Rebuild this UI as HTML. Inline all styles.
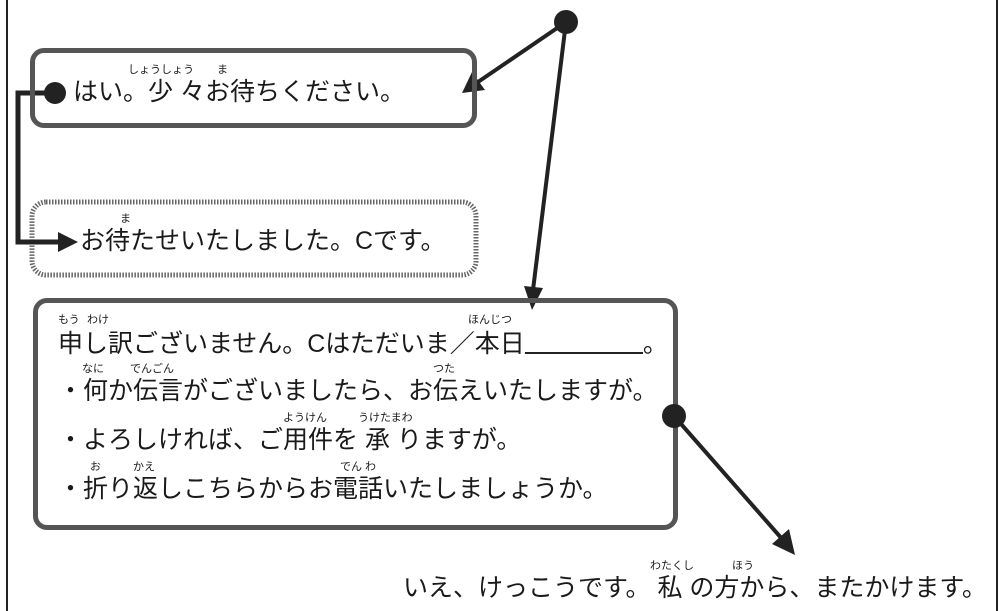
<!DOCTYPE html>
<html><head><meta charset="utf-8"><style>
body{margin:0;width:1004px;height:611px;background:#fff;position:relative;overflow:hidden;font-family:"Liberation Sans","Noto Sans CJK JP",sans-serif;color:#1a1a1a}
.t{position:absolute;font-size:25px;white-space:nowrap;line-height:1}
.r{position:absolute;font-size:11px;white-space:nowrap;line-height:1}
.box{position:absolute;border:5px solid #555;border-radius:14px;box-sizing:border-box}
</style></head><body>
<svg width="1004" height="611" style="position:absolute;left:0;top:0">
<line x1="7" y1="0" x2="7" y2="611" stroke="#222" stroke-width="2"/>
<line x1="997" y1="0" x2="997" y2="611" stroke="#222" stroke-width="2"/>
<rect x="32" y="202" width="444" height="73" rx="14" fill="none" stroke="#666" stroke-width="5" stroke-dasharray="1.5 1.5"/>
<polyline points="55,93 18,93 18,242 62,242" fill="none" stroke="#222" stroke-width="5"/>
<polygon points="58,232 78,242 58,252" fill="#222"/>
<line x1="566" y1="22" x2="478" y2="82" stroke="#222" stroke-width="4"/>
<polygon points="462,93 472,72 485,90" fill="#222"/>
<line x1="566" y1="22" x2="533" y2="290" stroke="#222" stroke-width="4"/>
<polygon points="532,310 524,286 543,288" fill="#222"/>
<line x1="674" y1="416" x2="783" y2="540" stroke="#222" stroke-width="4"/>
<polygon points="795,555 772,544 789,529" fill="#222"/>
</svg>
<div class="box" style="left:30px;top:48px;width:447px;height:80px"></div>
<div class="box" style="left:33px;top:298px;width:645px;height:232px"></div>
<svg width="1004" height="611" style="position:absolute;left:0;top:0">
<circle cx="55" cy="93" r="11" fill="#222"/>
<circle cx="566" cy="22" r="12" fill="#222"/>
<circle cx="674" cy="416" r="12" fill="#222"/>
</svg>
<div class="t" style="left:73px;top:80px">はい。少 々お待ちください。</div>
<div class="r" style="left:128px;top:65px">しょうしょう</div>
<div class="r" style="left:217px;top:65px">ま</div>
<div class="t" style="left:80px;top:229px">お待たせいたしました。Cです。</div>
<div class="r" style="left:120px;top:214px">ま</div>
<div class="t" style="left:58px;top:330px">申し訳ございません。Cはただいま／本日<span style="display:inline-block;width:118px;border-bottom:2px solid #222;height:22px;vertical-align:-2px"></span>。</div>
<div class="r" style="left:58px;top:315px">もう</div>
<div class="r" style="left:87px;top:315px">わけ</div>
<div class="r" style="left:468px;top:315px">ほんじつ</div>
<div class="t" style="left:58px;top:379px">・何か伝言がございましたら、お伝えいたしますが。</div>
<div class="r" style="left:82px;top:364px">なに</div>
<div class="r" style="left:130px;top:364px">でんごん</div>
<div class="r" style="left:433px;top:364px">つた</div>
<div class="t" style="left:58px;top:428px">・よろしければ、ご用件を 承 りますが。</div>
<div class="r" style="left:283px;top:413px">ようけん</div>
<div class="r" style="left:358px;top:413px">うけたまわ</div>
<div class="t" style="left:58px;top:477px">・折り返しこちらからお電話いたしましょうか。</div>
<div class="r" style="left:90px;top:462px">お</div>
<div class="r" style="left:133px;top:462px">かえ</div>
<div class="r" style="left:340px;top:462px">でん わ</div>
<div class="t" style="left:403px;top:576px">いえ、けっこうです。 私 の方から、またかけます。</div>
<div class="r" style="left:650px;top:561px">わたくし</div>
<div class="r" style="left:732px;top:561px">ほう</div>
</body></html>
